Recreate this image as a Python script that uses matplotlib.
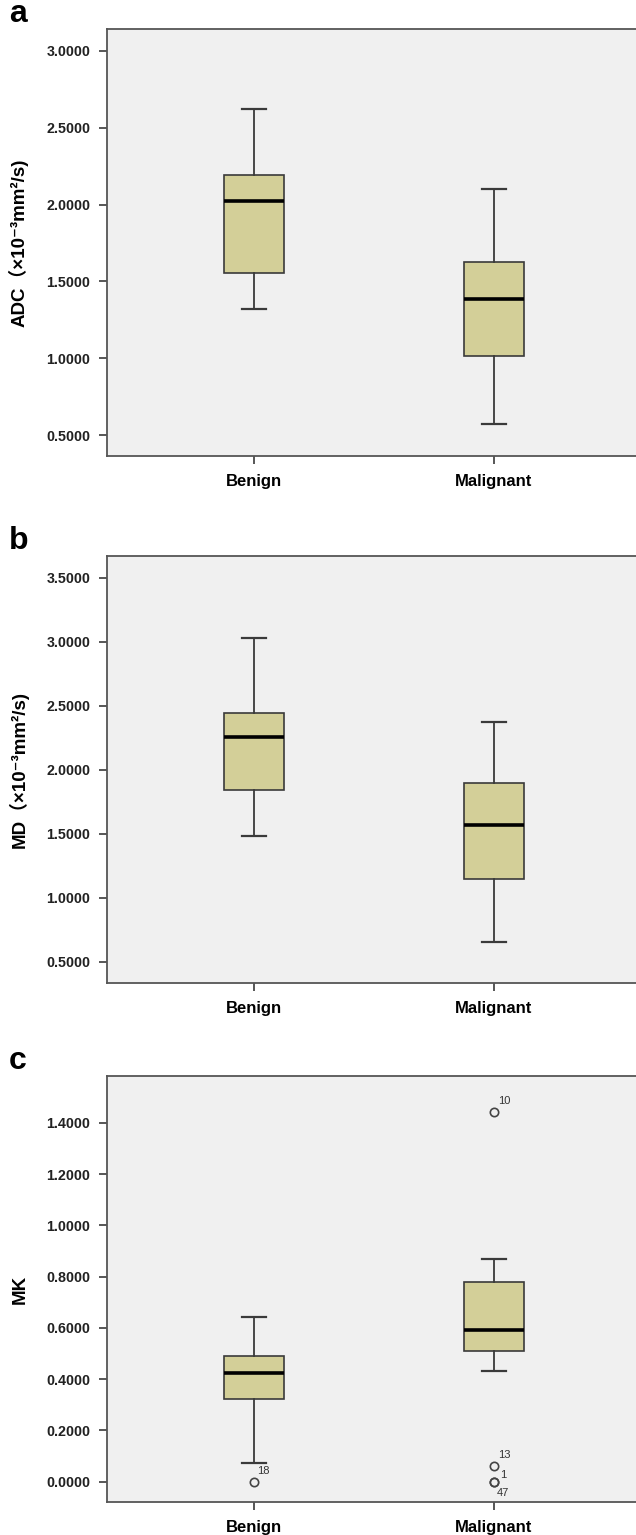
import matplotlib
matplotlib.use("Agg")
import matplotlib.pyplot as plt
import numpy as np

plt.rcParams['font.family'] = ['Liberation Sans', 'Noto Sans CJK SC', 'DejaVu Sans']

groups = ["Benign", "Malignant"]

# Panel a: ADC
adc_whislo = [1.32, 0.575]
adc_q1 = [1.553, 1.015]
adc_med = [2.022, 1.383]
adc_q3 = [2.191, 1.628]
adc_whishi = [2.623, 2.104]

# Panel b: MD
md_whislo = [1.487, 0.656]
md_q1 = [1.845, 1.150]
md_med = [2.253, 1.567]
md_q3 = [2.443, 1.897]
md_whishi = [3.032, 2.372]

# Panel c: MK
mk_whislo = [0.072, 0.433]
mk_q1 = [0.323, 0.511]
mk_med = [0.423, 0.592]
mk_q3 = [0.490, 0.780]
mk_whishi = [0.642, 0.870]
mk_outliers_benign = [0.0]
mk_outlier_labels_benign = ["18"]
mk_outliers_malignant = [1.442, 0.061, 0.0, 0.0]
mk_outlier_labels_malignant = ["10", "13", "1", "47"]

adc_ticks = [0.5, 1.0, 1.5, 2.0, 2.5, 3.0]
md_ticks = [0.5, 1.0, 1.5, 2.0, 2.5, 3.0, 3.5]
mk_ticks = [0.0, 0.2, 0.4, 0.6, 0.8, 1.0, 1.2, 1.4]

W, H = 636, 1535
fig = plt.figure(figsize=(W / 100, H / 100), dpi=100)

BG = "#f0f0f0"
BOX = "#d3cf98"
EDGE = "#3a3a3a"


def make_axes(top_px, bottom_px):
    left = 107
    right = 642
    return fig.add_axes([left / W, 1 - bottom_px / H, (right - left) / W,
                         (bottom_px - top_px) / H])


def draw_panel(ax, whislo, q1, med, q3, whishi, fliers, ylim, ticks, ylabel, letter):
    stats = []
    for i in range(len(groups)):
        stats.append(dict(whislo=whislo[i], q1=q1[i], med=med[i], q3=q3[i],
                          whishi=whishi[i], fliers=fliers[i], label=groups[i]))
    ax.set_facecolor(BG)
    ax.bxp(stats, positions=[1, 2], widths=0.254, patch_artist=True,
           capwidths=0.104,
           boxprops=dict(facecolor=BOX, edgecolor=EDGE, linewidth=1.2),
           medianprops=dict(color="black", linewidth=2.6),
           whiskerprops=dict(color=EDGE, linewidth=1.3),
           capprops=dict(color=EDGE, linewidth=1.6),
           flierprops=dict(marker='o', markerfacecolor='none',
                           markeredgecolor="#444444", markersize=6,
                           markeredgewidth=1.2))
    ax.set_xlim(1 - 147 / 240, 2 + 148 / 240)
    ax.set_ylim(*ylim)
    ax.set_yticks(ticks)
    ax.set_yticklabels([f"{t:.4f}" for t in ticks], fontsize=10.3,
                       fontweight='bold', color="#222222")
    ax.set_xticks([1, 2])
    ax.set_xticklabels(groups, fontsize=12, fontweight='bold')
    ax.tick_params(axis='y', length=6, width=1.2, color=EDGE, pad=6)
    ax.tick_params(axis='x', length=6, width=1.2, color=EDGE, pad=7)
    for s in ax.spines.values():
        s.set_color("#555555")
        s.set_linewidth(1.3)
    ax.set_ylabel(ylabel, fontsize=13.5, fontweight='bold')
    ax.yaxis.set_label_coords(-78 / 535, 0.5)
    ax.text(-98 / 535, 1.0, letter, transform=ax.transAxes, fontsize=23,
            fontweight='bold', va='bottom', ha='left')


ax1 = make_axes(29, 456)
draw_panel(ax1, adc_whislo, adc_q1, adc_med, adc_q3, adc_whishi, [[], []],
           (0.364, 3.143), adc_ticks, "ADC（×10⁻³mm²/s)", "a")

ax2 = make_axes(556, 983)
draw_panel(ax2, md_whislo, md_q1, md_med, md_q3, md_whishi, [[], []],
           (0.336, 3.669), md_ticks, "MD（×10⁻³mm²/s)", "b")

ax3 = make_axes(1076, 1502)
draw_panel(ax3, mk_whislo, mk_q1, mk_med, mk_q3, mk_whishi,
           [mk_outliers_benign, mk_outliers_malignant],
           (-0.079, 1.583), mk_ticks, "MK", "c")

label_offsets_benign = [(3, 11)]
label_offsets_malignant = [(4, 11), (4, 11), (6, 7), (3, -11)]
for pos, vals, labs, offs in [(1, mk_outliers_benign, mk_outlier_labels_benign, label_offsets_benign),
                              (2, mk_outliers_malignant, mk_outlier_labels_malignant, label_offsets_malignant)]:
    for v, lab, off in zip(vals, labs, offs):
        ax3.annotate(lab, (pos, v), xytext=off, textcoords='offset pixels',
                     fontsize=8, color="#333333", ha='left', va='center')

fig.savefig("out.png", dpi=100, facecolor="white")
